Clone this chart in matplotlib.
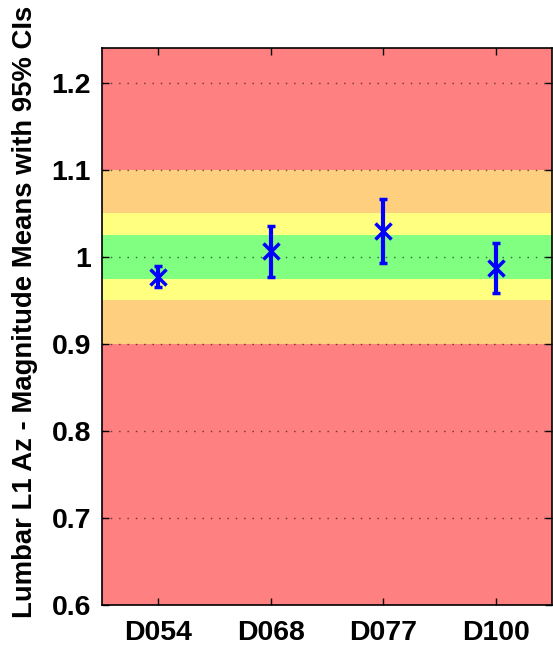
import matplotlib
matplotlib.use("Agg")
import matplotlib.pyplot as plt
import numpy as np

categories = ["D054", "D068", "D077", "D100"]
means = [0.977, 1.007, 1.030, 0.987]
ci_low = [0.965, 0.977, 0.993, 0.958]
ci_high = [0.989, 1.036, 1.067, 1.016]

bands = [  # (low, high, color)
    (0.6, 0.9, "#ff8080"),
    (0.9, 0.95, "#ffcf80"),
    (0.95, 0.975, "#ffff80"),
    (0.975, 1.025, "#80ff80"),
    (1.025, 1.05, "#ffff80"),
    (1.05, 1.1, "#ffcf80"),
    (1.1, 1.25, "#ff8080"),
]
yticks = [0.6, 0.7, 0.8, 0.9, 1.0, 1.1, 1.2]
ytick_labels = ["0.6", "0.7", "0.8", "0.9", "1", "1.1", "1.2"]

plt.rcParams['font.family'] = ['Liberation Sans', 'DejaVu Sans']
plt.rcParams['font.weight'] = 'bold'

fig = plt.figure(figsize=(5.53, 6.49), dpi=100)
ax = fig.add_axes([102/553, 1-605/649, (552-102)/553, (605-48)/649])

for lo, hi, c in bands:
    ax.axhspan(lo, hi, color=c, lw=0, zorder=0)

for y in yticks:
    ax.axhline(y, color="black", ls=(0, (1, 5)), lw=1, alpha=0.6, zorder=1)

x = np.arange(1, len(categories) + 1)
m = np.array(means)
yerr = [m - np.array(ci_low), np.array(ci_high) - m]
ax.errorbar(x, m, yerr=yerr, fmt='x', color='#0000ff', ms=11, mew=2.5,
            elinewidth=3, capsize=3, capthick=3, zorder=3)

ax.set_xlim(0.5, 4.5)
ax.set_ylim(0.6, 1.24)
ax.set_xticks(x)
ax.set_xticklabels(categories)
ax.set_yticks(yticks)
ax.set_yticklabels(ytick_labels)
ax.tick_params(axis='both', labelsize=20.5, direction='in', length=5, width=1,
               top=True, right=True, pad=8)
ax.tick_params(axis='x', pad=11)
fig.text(25/553, 1-312/649, "Lumbar L1 Az - Magnitude Means with 95% CIs",
         fontsize=19.8, fontweight='bold', rotation=90, ha='center', va='center')
for s in ax.spines.values():
    s.set_linewidth(1.2)

fig.savefig("out.png", dpi=100)
